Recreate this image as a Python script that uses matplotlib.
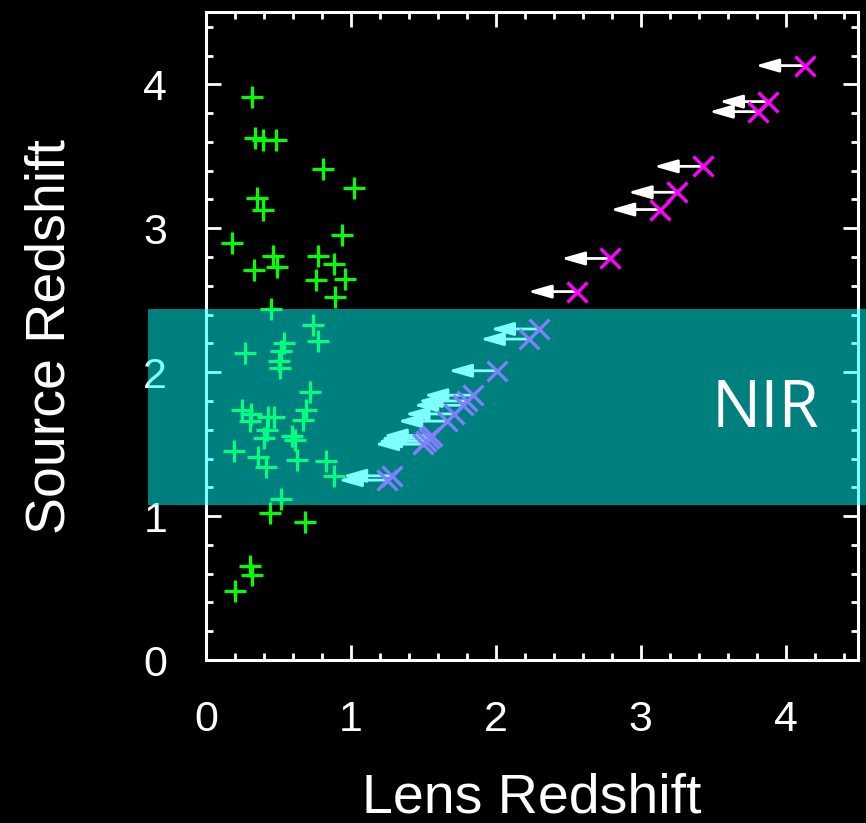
import matplotlib
matplotlib.use("Agg")
import matplotlib.pyplot as plt
from matplotlib.ticker import MultipleLocator

plt.rcParams['font.family'] = ['Liberation Sans', 'DejaVu Sans']

# measured lens/source redshift pairs
lens_z = [0.32, 0.34, 0.39, 0.48, 0.81, 1.02, 0.35, 0.39, 0.18, 0.94,
          0.46, 0.49, 0.33, 0.77, 0.88, 0.96, 0.76, 0.89, 0.45, 0.74,
          0.77, 0.27, 0.54, 0.52, 0.50, 0.51, 0.72, 0.69, 0.67, 0.25,
          0.31, 0.30, 0.43, 0.47, 0.42, 0.40, 0.59, 0.61, 0.19, 0.36,
          0.41, 0.63, 0.83, 0.88, 0.52, 0.44, 0.68, 0.30, 0.32, 0.20]
source_z = [3.91, 3.63, 3.61, 3.61, 3.41, 3.28, 3.21, 3.13, 2.90, 2.95,
            2.81, 2.73, 2.71, 2.81, 2.75, 2.65, 2.64, 2.52, 2.44, 2.33,
            2.22, 2.13, 2.20, 2.15, 2.08, 2.03, 1.86, 1.74, 1.67, 1.74,
            1.71, 1.66, 1.69, 1.69, 1.60, 1.54, 1.56, 1.53, 1.45, 1.41,
            1.34, 1.39, 1.38, 1.28, 1.12, 1.02, 0.96, 0.65, 0.59, 0.48]

# systems with only a source redshift: lens z is an upper limit (z_lens < z_source)
limit_z = [1.25, 1.28, 1.50, 1.52, 1.54, 1.56, 1.66, 1.71, 1.77, 1.80,
           1.84, 2.01, 2.23, 2.30, 2.56, 2.79, 3.13, 3.25, 3.43, 3.81,
           3.88, 4.13]
arrow_len = 0.34

# near-infrared band in source redshift
nir_lo, nir_hi = 1.08, 2.44

fig = plt.figure(figsize=(8.66, 8.23), dpi=100, facecolor='black')
ax = fig.add_axes([0.238, 0.198, 0.753, 0.787], facecolor='black')

ax.plot(lens_z, source_z, linestyle='none', marker='+', color='#00ff00',
        markersize=16, markeredgewidth=2.3, zorder=3)

for z in limit_z:
    ax.annotate('', xy=(z - arrow_len, z), xytext=(z, z),
                arrowprops=dict(arrowstyle='-|>,head_length=1.4,head_width=0.4',
                                color='white', lw=2, shrinkA=0, shrinkB=0,
                                mutation_scale=10),
                zorder=4)

ax.plot(limit_z, limit_z, linestyle='none', marker='x', color='#ff00ff',
        markersize=15, markeredgewidth=2.4, zorder=5)

ax.set_xlim(0, 4.5)
ax.set_ylim(0, 4.5)
ax.xaxis.set_major_locator(MultipleLocator(1))
ax.xaxis.set_minor_locator(MultipleLocator(0.2))
ax.yaxis.set_major_locator(MultipleLocator(1))
ax.yaxis.set_minor_locator(MultipleLocator(0.2))

for s in ax.spines.values():
    s.set_color('white')
    s.set_linewidth(2.2)

ax.tick_params(which='both', direction='in', colors='white', top=True, right=True,
               width=2)
ax.tick_params(which='major', length=11)
ax.tick_params(which='minor', length=5)
ax.tick_params(axis='x', which='major', labelsize=31, pad=29)
ax.tick_params(axis='y', which='major', labelsize=31, pad=28)

ax.set_xlabel('Lens Redshift', color='white', fontsize=40)
ax.set_ylabel('Source Redshift', color='white', fontsize=40)
ax.xaxis.set_label_coords(0.5, -0.174)
ax.yaxis.set_label_coords(-0.198, 0.5)

# translucent band laid over everything, reaching past the left spine
ax.axhspan(nir_lo, nir_hi, xmin=-0.089, xmax=1.02, color='cyan', alpha=0.5,
           lw=0, clip_on=False, zorder=10)
ax.text(3.86, 1.74, 'NIR', color='white', fontsize=47, family='Open Sans',
        weight='medium', ha='center', va='center', zorder=11)

fig.savefig('out.png', dpi=100, facecolor='black')
